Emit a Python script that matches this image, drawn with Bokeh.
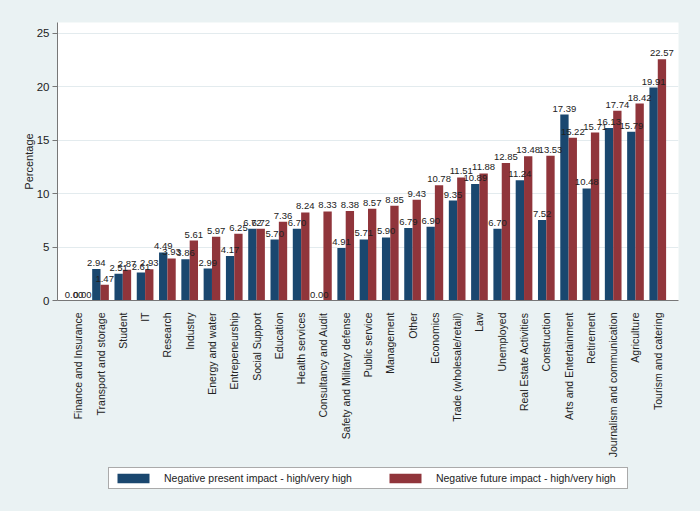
from bokeh.plotting import figure
from bokeh.models import ColumnDataSource, FactorRange, Range1d, FixedTicker, Legend, LegendItem
from bokeh.layouts import column
from bokeh.transform import dodge
from bokeh.core.properties import value
from bokeh.embed import file_html
from bokeh.resources import INLINE
import math

categories = ["Finance and Insurance", "Transport and storage", "Student", "IT", "Research",
              "Industry", "Energy and water", "Entrepeneurship", "Social Support", "Education",
              "Health services", "Consultancy and Audit", "Safety and Military defense",
              "Public service", "Management", "Other", "Economics", "Trade (wholesale/retail)",
              "Law", "Unemployed", "Real Estate Activities", "Construction",
              "Arts and Entertainment", "Retirement", "Journalism and communication",
              "Agriculture", "Tourism and catering"]
present = [0.00, 2.94, 2.51, 2.61, 4.49, 3.86, 2.99, 4.17, 6.72, 5.70, 6.70, 0.00, 4.91,
           5.71, 5.90, 6.79, 6.90, 9.35, 10.89, 6.70, 11.24, 7.52, 17.39, 10.48, 16.13,
           15.79, 19.91]
future = [0.00, 1.47, 2.87, 2.93, 3.93, 5.61, 5.97, 6.25, 6.72, 7.36, 8.24, 8.33, 8.38,
          8.57, 8.85, 9.43, 10.78, 11.51, 11.88, 12.85, 13.48, 13.53, 15.22, 15.71, 17.74,
          18.42, 22.57]
series_names = ["Negative present impact - high/very high",
                "Negative future impact - high/very high"]
y_ticks = [0, 5, 10, 15, 20, 25]

NAVY = "#1a476f"
MAROON = "#90353b"
BG = "#eaf2f3"
FONT = "Liberation Sans"

src = ColumnDataSource(dict(
    cat=categories, present=present, future=future,
    present_lbl=["%.2f" % v for v in present],
    future_lbl=["%.2f" % v for v in future],
))

p = figure(x_range=FactorRange(*categories, range_padding=0.43, range_padding_units="absolute"),
           y_range=Range1d(0, 26.0),
           width=700, height=460, output_backend="svg", toolbar_location=None,
           min_border_left=57, min_border_right=22, min_border_top=22, min_border_bottom=159)
p.background_fill_color = "white"
p.border_fill_color = BG
p.outline_line_color = None

bw = 0.374
p.vbar(x=dodge("cat", -bw / 2, range=p.x_range), top="present", width=bw, source=src,
       fill_color=NAVY, line_color=None)
p.vbar(x=dodge("cat", bw / 2, range=p.x_range), top="future", width=bw, source=src,
       fill_color=MAROON, line_color=None)

for col, off in (("present", -bw / 2), ("future", bw / 2)):
    p.text(x=dodge("cat", off, range=p.x_range), y=col, text=col + "_lbl", source=src,
           text_align="center", text_baseline="alphabetic", y_offset=-6,
           text_font=value(FONT), text_font_size="9.5px", text_color="#222222")

# axes
p.xgrid.grid_line_color = None
p.ygrid.grid_line_color = "#e3ebee"
p.ygrid.ticker = FixedTicker(ticks=y_ticks)

p.yaxis.ticker = FixedTicker(ticks=y_ticks)
p.yaxis.axis_label = "Percentage"
p.yaxis.axis_label_text_font = FONT
p.yaxis.axis_label_text_font_size = "11px"
p.yaxis.axis_label_text_font_style = "normal"
p.yaxis.axis_label_text_color = "#222222"
p.yaxis.axis_label_standoff = -1
p.yaxis.major_label_text_font = FONT
p.yaxis.major_label_text_font_size = "11.5px"
p.yaxis.major_label_text_color = "#222222"
p.yaxis.major_label_standoff = 3
p.yaxis.major_tick_out = 5
p.yaxis.major_tick_in = 0
p.yaxis.minor_tick_line_color = None
p.yaxis.axis_line_color = "#777777"
p.yaxis.major_tick_line_color = "#777777"

p.xaxis.major_label_orientation = math.pi / 2
p.xaxis.major_label_text_font = FONT
p.xaxis.major_label_text_font_size = "10.5px"
p.xaxis.major_label_text_color = "#222222"
p.xaxis.major_label_standoff = 6
p.xaxis.major_tick_line_color = None
p.xaxis.minor_tick_line_color = None
p.xaxis.axis_line_color = "#777777"

# legend strip below the chart (hidden renderers only supply the swatch styles)
lg = figure(width=700, height=51, x_range=(0, 1), y_range=(0, 1), output_backend="svg",
            toolbar_location=None, x_axis_type=None, y_axis_type=None,
            min_border_left=57, min_border_right=22, min_border_top=0, min_border_bottom=0)
lg.background_fill_color = BG
lg.border_fill_color = BG
lg.outline_line_color = None
lr1 = lg.vbar(x=[0.5], top=[0], width=0.1, fill_color=NAVY, line_color=None, visible=False)
lr2 = lg.vbar(x=[0.5], top=[0], width=0.1, fill_color=MAROON, line_color=None, visible=False)
legend = Legend(items=[LegendItem(label=series_names[0], renderers=[lr1]),
                       LegendItem(label=series_names[1], renderers=[lr2])],
                orientation="horizontal", location=(51, 22),
                glyph_width=40, glyph_height=12, label_height=12, label_width=187,
                label_standoff=11, spacing=33, padding=4, margin=0,
                label_text_font=FONT, label_text_font_size="10.5px", label_text_color="#222222",
                border_line_color="#555555", border_line_width=1,
                inactive_fill_alpha=0.0,
                background_fill_color="white", background_fill_alpha=1.0)
lg.add_layout(legend, "center")

page = column(p, lg, spacing=0)
html = file_html(page, INLINE)
html = html.replace("</head>", "<style>body{background:%s;}</style></head>" % BG, 1)
open("out.html", "w").write(html)
